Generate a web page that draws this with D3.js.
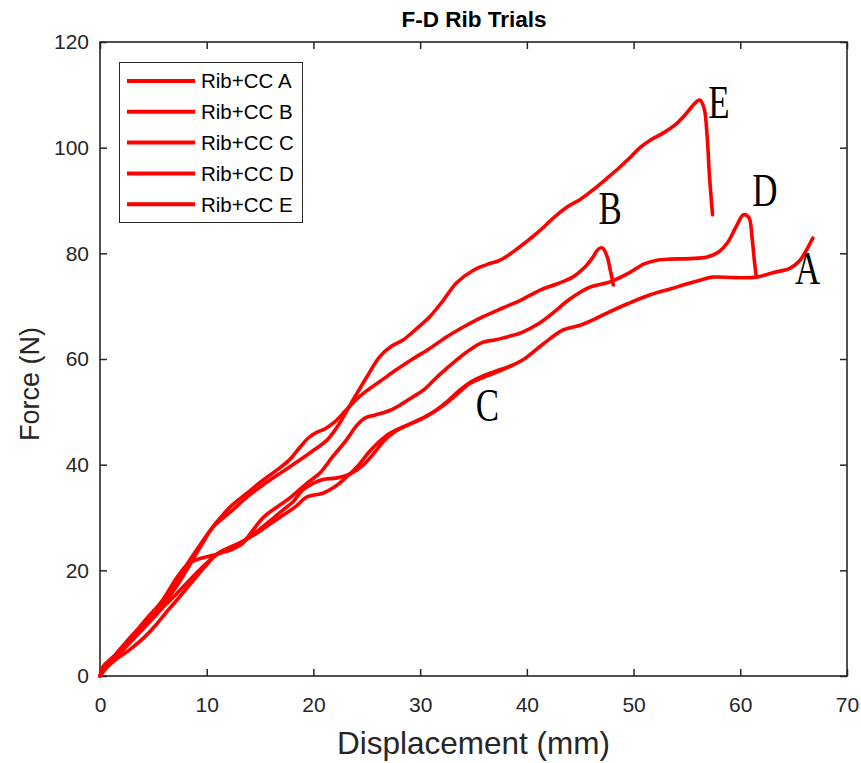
<!DOCTYPE html>
<html>
<head>
<meta charset="utf-8">
<script src="https://cdn.jsdelivr.net/npm/d3@7"></script>
<style>
  body { margin: 0; background: #fff; }
  text { font-family: Arial, "Liberation Sans", sans-serif; fill: #262626; }
</style>
</head>
<body>
<div id="content"></div>
<script>
// Force-displacement traces

let xTicks = [0, 10, 20, 30, 40, 50, 60, 70];
let yTicks = [0, 20, 40, 60, 80, 100, 120];

let dispA = [0, 0.6, 1.4, 2.8, 4.2, 5.3, 6.4, 7.3, 8.2, 9, 9.8, 11.1, 12.3, 13.6, 14.9, 16.1, 17.2, 18.3, 19.4, 20.9, 22, 22.8, 24.1, 25.3, 26.3, 27.2, 28.6, 30, 31.3, 32.5, 33.6, 34.7, 36, 37.2, 38.4, 39.6, 41.5, 43.4, 45, 46.3, 47.5, 49.5, 51.5, 53.5, 55.3, 56.4, 57.4, 59.5, 61.5, 63.2, 64.7, 65.6, 66.2, 66.8];
let forceA = [0, 1.5, 3, 5, 7.4, 9.8, 12.5, 14.6, 16.8, 18.7, 20.6, 23.3, 24.4, 25.7, 27.3, 29, 30.5, 32, 33.9, 34.6, 35.8, 37.1, 39.6, 42.6, 44.6, 46, 47.3, 48.5, 50, 51.7, 53.6, 55.4, 56.6, 57.5, 58.6, 59.8, 62.8, 65.5, 66.4, 67.5, 68.7, 70.5, 72.1, 73.3, 74.4, 75, 75.5, 75.4, 75.5, 76.4, 77.2, 78.7, 80.6, 82.9];

let dispB = [0, 0.5, 1.5, 2.6, 3.6, 4.5, 5.8, 7.3, 8.7, 10.3, 11.3, 12.2, 13.7, 15.3, 16.6, 17.8, 18.7, 19.5, 20.3, 21.1, 22, 23, 24, 25, 26.4, 27.8, 29.3, 30.9, 32.5, 34, 35.9, 37.8, 39.5, 41.2, 42.8, 44.3, 45.4, 46.2, 46.7, 47.1, 47.5, 47.8, 48.1];
let forceB = [0, 1.8, 4.2, 6.8, 9, 11.2, 14, 18.5, 22.8, 27.5, 30, 32, 34.5, 37.1, 39, 41, 43.2, 45, 46.1, 46.8, 48.1, 50.2, 52.3, 54, 56, 58, 60, 62, 64.2, 66, 68, 69.7, 71.2, 73, 74.2, 75.5, 77.3, 79.3, 80.8, 81, 79.5, 77, 74];

let dispC = [0, 0.3, 1, 2.2, 3.6, 4.9, 6, 7, 8, 8.9, 9.8, 10.8, 12, 13.3, 14.6, 15.9, 17.2, 18.1, 19, 20, 20.9, 22.2, 23.5, 24.6, 25.6, 26.6, 27.6, 28.8, 30, 31.3, 32.5, 33.6, 34.7, 36, 37.2, 38, 38.6];
let forceC = [0, 1.8, 3.2, 5.2, 8, 10.8, 13.2, 15.2, 17.3, 19.2, 21, 22.8, 24.2, 25.4, 27.2, 29.3, 31.5, 33, 35.2, 36.5, 37.2, 37.5, 38.3, 39.8, 42, 44.5, 46.2, 47.5, 48.6, 50, 51.9, 53.9, 55.6, 56.9, 57.8, 58.3, 58.8];

let dispD = [0, 0.5, 1.5, 2.6, 3.6, 4.5, 5.8, 7.3, 8.3, 9.3, 10.3, 11.2, 12.3, 13.3, 14.3, 15.3, 16.6, 17.8, 19.4, 20.6, 21.8, 23.1, 24.1, 24.9, 25.8, 27.2, 28.3, 29.3, 30.3, 31.8, 33.4, 34.7, 35.9, 37, 37.8, 39.5, 41.2, 42.5, 44, 45.9, 47.8, 49.5, 51, 52.2, 53.5, 55.3, 56.9, 58, 58.8, 59.6, 60.3, 60.8, 61.1, 61.3, 61.5];
let forceD = [0, 1.9, 4, 6.6, 8.8, 11, 14.2, 18.9, 21.3, 22.2, 22.7, 23.2, 23.9, 25, 27.5, 30, 32, 33.7, 36.5, 38.4, 41.5, 44.7, 47.5, 48.9, 49.4, 50.3, 51.5, 52.8, 54.1, 57, 59.8, 61.8, 63.2, 63.6, 64, 65, 66.8, 68.8, 71.3, 73.6, 74.6, 76.2, 78, 78.7, 78.9, 79, 79.3, 80.3, 82, 85, 87.3, 86.8, 83, 79, 75.5];

let dispE = [0, 0.4, 1.2, 2.2, 3.2, 4.2, 5.3, 6.4, 7.5, 8.4, 9.4, 10.6, 12.2, 13.8, 15.3, 16.9, 18.3, 19.8, 21.3, 22.5, 23.7, 25, 26.2, 27.3, 28.4, 29.7, 30.9, 32.2, 33.4, 35, 36.3, 37.5, 39.2, 41, 42.5, 43.8, 45, 46.2, 47.5, 48.7, 49.7, 50.6, 51.7, 52.8, 54, 55, 55.7, 56.2, 56.6, 56.9, 57.1, 57.4];
let forceE = [0, 1.4, 3, 5, 7.2, 9.5, 12, 14.8, 18, 21, 24.4, 28.2, 31, 33.9, 36.2, 38.4, 40.3, 42.4, 44.7, 48, 52.2, 56.6, 60.4, 62.4, 63.6, 65.8, 68, 71.2, 74.4, 76.8, 77.9, 78.7, 81, 83.9, 86.7, 88.8, 90.2, 92, 94.2, 96.3, 98.2, 100, 101.6, 102.8, 104.5, 106.6, 108.3, 109, 107.5, 102, 95, 87.3];

let seriesNames = ["Rib+CC A", "Rib+CC B", "Rib+CC C", "Rib+CC D", "Rib+CC E"];

// letters written next to each trace, in data units
let tagText = ["A", "B", "C", "D", "E"];
let tagDisp = [66.3, 47.8, 36.3, 62.3, 58.0];
let tagForce = [77.1, 88.6, 51.3, 92.0, 108.6];

let width = 861;
let height = 763;
let margin = {top: 42, right: 14, bottom: 87, left: 100};

let svg = d3.select("#content").append("svg")
            .attr("width", width)
            .attr("height", height);

let x = d3.scaleLinear().domain([0, 70]).range([margin.left, width - margin.right]);
let y = d3.scaleLinear().domain([0, 120]).range([height - margin.bottom, margin.top]);

let axisColor = "#262626";

// ticks point inwards on all four sides, labels only bottom and left
let axisB = svg.append("g")
   .attr("transform", "translate(0," + y(0) + ")")
   .call(d3.axisBottom(x).tickValues(xTicks).tickSizeInner(-7).tickSizeOuter(0).tickPadding(21));
let axisL = svg.append("g")
   .attr("transform", "translate(" + x(0) + ",0)")
   .call(d3.axisLeft(y).tickValues(yTicks).tickSizeInner(-7).tickSizeOuter(0).tickPadding(11));
let axisT = svg.append("g")
   .attr("transform", "translate(0," + y(120) + ")")
   .call(d3.axisTop(x).tickValues(xTicks).tickSizeInner(-7).tickSizeOuter(0).tickFormat(""));
let axisR = svg.append("g")
   .attr("transform", "translate(" + x(70) + ",0)")
   .call(d3.axisRight(y).tickValues(yTicks).tickSizeInner(-7).tickSizeOuter(0).tickFormat(""));

[axisB, axisL, axisT, axisR].forEach(function(g) {
  g.select(".domain").remove();
  g.selectAll(".tick line").attr("stroke", axisColor).attr("stroke-width", 1.5);
  g.selectAll(".tick text").attr("font-size", 21).attr("fill", axisColor)
   .attr("font-family", "Arial, 'Liberation Sans', sans-serif");
});

svg.append("rect")
   .attr("x", x(0)).attr("y", y(120))
   .attr("width", x(70) - x(0)).attr("height", y(0) - y(120))
   .attr("fill", "none").attr("stroke", axisColor).attr("stroke-width", 1.6);

// titles
svg.append("text")
   .attr("x", 474).attr("y", 27)
   .attr("text-anchor", "middle").attr("font-size", 22.5).attr("font-weight", "bold")
   .style("fill", "#000")
   .text("F-D Rib Trials");

svg.append("text")
   .attr("x", (x(0) + x(70)) / 2).attr("y", 754)
   .attr("text-anchor", "middle").attr("font-size", 31.5)
   .text("Displacement (mm)");

svg.append("text")
   .attr("transform", "translate(39,384) rotate(-90)")
   .attr("text-anchor", "middle").attr("font-size", 27)
   .text("Force (N)");

// traces
let traces = [
  d3.zip(dispA, forceA),
  d3.zip(dispB, forceB),
  d3.zip(dispC, forceC),
  d3.zip(dispD, forceD),
  d3.zip(dispE, forceE)
];

let line = d3.line()
             .x(function(d) { return x(d[0]); })
             .y(function(d) { return y(d[1]); })
             .curve(d3.curveCatmullRom.alpha(0.5));

svg.selectAll("path.trace").data(traces).enter().append("path")
   .attr("class", "trace")
   .attr("d", line)
   .style("fill", "none")
   .style("stroke", "#ff0000")
   .style("stroke-width", 3.6)
   .style("stroke-linejoin", "round")
   .style("stroke-linecap", "round");

// big serif letters by each curve
svg.selectAll("text.tag").data(tagText).enter().append("text")
   .attr("class", "tag")
   .attr("transform", function(d, i) {
     return "translate(" + x(tagDisp[i]) + "," + y(tagForce[i]) + ") scale(0.76,1)";
   })
   .attr("text-anchor", "middle")
   .attr("dy", "0.34em")
   .attr("font-size", 46)
   .style("font-family", "'Liberation Serif', 'DejaVu Serif', serif")
   .style("fill", "#000")
   .text(function(d) { return d; });

// legend
let legend = svg.append("g");
legend.append("rect")
      .attr("x", 119.5).attr("y", 62.5)
      .attr("width", 183).attr("height", 160)
      .attr("fill", "#fff").attr("stroke", axisColor).attr("stroke-width", 1);

let rows = legend.selectAll("g.row").data(seriesNames).enter().append("g")
                 .attr("class", "row")
                 .attr("transform", function(d, i) { return "translate(0," + (81 + i * 30.8) + ")"; });
rows.append("line")
    .attr("x1", 127).attr("x2", 195)
    .attr("stroke", "#ff0000").attr("stroke-width", 4);
rows.append("text")
    .attr("x", 201).attr("dy", "0.36em")
    .attr("font-size", 20.5).style("fill", "#000")
    .text(function(d) { return d; });
</script>
</body>
</html>
